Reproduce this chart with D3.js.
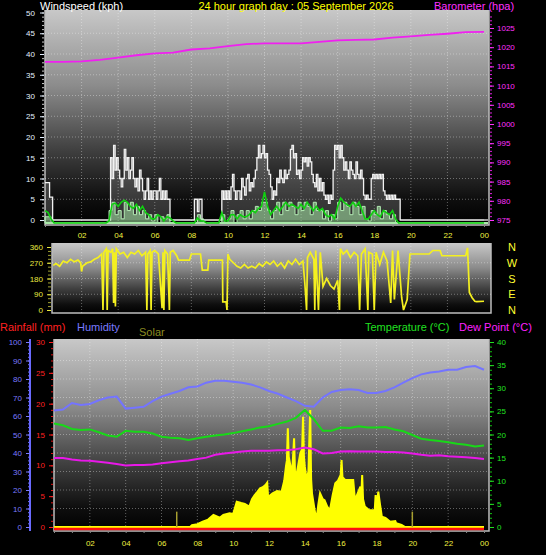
<!DOCTYPE html>
<html>
<head>
<meta charset="utf-8">
<script src="https://d3js.org/d3.v7.min.js"></script>
<style>
  body { margin: 0; background: #000; }
  svg { display: block; }
  text { font-family: "Liberation Sans", Arial, sans-serif; }
</style>
</head>
<body>
<svg id="chart" width="546" height="555"></svg>
<script>
// hour ticks shared by the 3 panels
var hourTicks = [2, 4, 6, 8, 10, 12, 14, 16, 18, 20, 22, 24];
var hourLabels = ["02", "04", "06", "08", "10", "12", "14", "16", "18", "20", "22", "00"];

// gusts, one reading every 5 min (kph)
var gustData = [
  9, 9, 9, 5.5, 5.5, 0, 0, 0, 0, 0, 0, 0,          // 00
  0, 0, 0, 0, 0, 0, 0, 0, 0, 0, 0, 0,              // 01
  0, 0, 0, 0, 0, 0, 0, 0, 0, 0, 0, 0,              // 02
  0, 0, 0, 0, 0, 0, 0, 15, 10, 18, 12, 15,         // 03
  12, 10, 8, 10, 17, 12, 15, 10, 12, 15, 10, 8,    // 04
  10, 7, 12, 10, 7, 5, 7, 10, 5, 7, 5, 7,          // 05
  7, 5, 7, 10, 5, 7, 5, 7, 5, 5, 0, 0,             // 06
  0, 0, 0, 0, 0, 0, 0, 0, 0, 0, 0, 0,              // 07
  0, 0, 5, 5, 2, 5, 5, 0, 0, 0, 0, 0,              // 08
  0, 0, 0, 0, 0, 0, 0, 0, 7, 5, 7, 5,              // 09
  7, 5, 8, 11, 7, 5, 7, 7, 5, 10, 8, 6,            // 10
  10, 11, 7, 9, 8, 10, 12, 15, 18, 15, 16, 18,     // 11
  15, 16, 12, 11, 8, 5, 7, 6, 10, 9, 12, 10,       // 12
  9, 12, 10, 11, 12, 17, 18, 15, 16, 11, 12, 10,   // 13
  12, 15, 14, 15, 13, 15, 14, 11, 9, 8, 11, 7,     // 14
  10, 7, 9, 6, 5, 6, 4, 6, 5, 12, 18, 17,          // 15
  18, 15, 18, 15, 12, 14, 12, 10, 14, 12, 11, 10,  // 16
  14, 11, 10, 12, 10, 6, 5, 6, 5, 5, 10, 11,       // 17
  10, 11, 10, 11, 10, 11, 7, 6, 5, 6, 5, 6,        // 18
  5, 6, 5, 5, 5, 0, 0, 0, 0, 0, 0, 0,              // 19
  0, 0, 0, 0, 0, 0, 0, 0, 0, 0, 0, 0,              // 20
  0, 0, 0, 0, 0, 0, 0, 0, 0, 0, 0, 0,              // 21
  0, 0, 0, 0, 0, 0, 0, 0, 0, 0, 0, 0,              // 22
  0, 0, 0, 0, 0, 0, 0, 0, 0, 0, 0, 0,              // 23
  0
];

// wind speed, every 10 min (kph)
var speedData = [
  1.5, 1.5, 0, 0, 0, 0,   0, 0, 0, 0, 0, 0,   0, 0, 0, 0, 0, 0,
  0, 0, 0, 3, 5, 2,       3, 1, 5, 3, 5, 2,   4, 2, 3, 1, 2, 0.5,
  2, 0, 1.5, 1, 2, 0,     0, 0, 0, 0, 0, 0,   0, 0, 2, 1, 0, 0,
  0, 0, 0, 0, 2, 0,       1, 3, 0, 2, 3, 1,   3, 1, 3, 4, 3, 5,
  5, 3, 1, 3, 5, 2,       5, 3, 5, 4, 2, 5,   3, 5, 4, 2, 5, 3,
  3, 1, 3, 0.5, 2, 1,     5, 3, 5, 4, 2, 5,   4, 2, 4, 1, 0.5, 3,
  2, 4, 1, 3, 2, 1,       2, 0, 0, 0, 0, 0,   0, 0, 0, 0, 0, 0,
  0, 0, 0, 0, 0, 0,       0, 0, 0, 0, 0, 0,   0, 0, 0, 0, 0, 0,
  0
];

// average wind speed, every 10 min (kph)
var avgData = [
  3, 2.5, 1, 0, 0, 0,       0, 0, 0, 0, 0, 0,           0, 0, 0, 0, 0, 0,
  0, 0, 0, 0.5, 4.5, 4.8,   4, 5, 5.5, 5, 4, 3.5,       4.5, 3, 4, 2.5, 2, 1,
  1, 2, 1.5, 0.5, 1.5, 1.2, 0.5, 0, 0, 0, 0, 0,         0, 0, 1.2, 0.5, 0.5, 0,
  0, 0, 0, 0, 2.5, 0.5,     0.5, 2, 2, 1, 2, 1.5,       1.5, 2, 3, 2.5, 3.5, 4,
  7.5, 4, 2, 3, 4, 3,       4, 5, 4, 4.5, 4, 3.5,       4.5, 3.5, 5, 4, 3, 4,
  3, 3.5, 2, 1.5, 2, 1,     4, 6, 5, 4.5, 4, 5,         4, 5, 3, 1, 1, 2,
  3, 2, 1.5, 3, 2.5, 2,     3, 1, 0, 0, 0, 0,           0, 0, 0, 0, 0, 0,
  0, 0, 0, 0, 0, 0,         0, 0, 0, 0, 0, 0,           0, 0, 0, 0, 0, 0,
  0
];

// barometer, hourly (hpa)
var baroData = [1016.2, 1016.2, 1016.3, 1016.7, 1017.3, 1017.9, 1018.4, 1018.6, 1019.4,
  1019.7, 1020.3, 1020.8, 1021.0, 1021.0, 1021.0, 1021.4, 1021.8, 1021.9, 1022.0,
  1022.5, 1022.8, 1023.2, 1023.5, 1023.9, 1024.0];

// wind direction (hour, degrees)
var dirHours = [0.45, 0.6, 0.8, 1.0, 1.2, 1.4, 1.6, 1.8, 1.95, 2.0, 2.05, 2.3, 2.5, 2.7, 2.9, 3.1,
  3.17, 3.22, 3.35, 3.4, 3.45, 3.6, 3.7, 3.75, 3.8, 3.85, 3.9, 4.1, 4.3, 4.5, 4.7, 4.9,
  5.1, 5.3, 5.5, 5.57, 5.62, 5.75, 5.8, 5.85, 6.0, 6.2, 6.4, 6.45, 6.5, 6.55, 6.7, 6.8,
  6.85, 7.0, 7.2, 7.3, 7.9, 8.0, 8.5, 8.6, 8.9, 8.95, 9.7, 9.72, 9.9, 9.95, 10.0, 10.1,
  10.3, 10.5, 10.7, 10.9, 11.1, 11.3, 11.5, 11.7, 11.9, 12.1, 12.3, 12.5, 12.7, 12.9,
  13.1, 13.3, 13.5, 13.7, 13.9, 14.1, 14.2, 14.3, 14.35, 14.5, 14.7, 14.75, 14.8, 14.95,
  15.05, 15.2, 15.4, 15.6, 15.8, 16.0, 16.1, 16.15, 16.3, 16.5, 16.7, 16.9, 17.1, 17.2,
  17.3, 17.5, 17.65, 17.7, 17.9, 18.0, 18.1, 18.3, 18.5, 18.7, 18.9, 19.0, 19.1, 19.3,
  19.5, 19.6, 19.8, 19.95, 21.0, 21.2, 21.6, 21.7, 23.0, 23.1, 23.2, 23.35, 23.5, 23.6, 24.0];
var dirValues = [255, 265, 250, 280, 270, 290, 275, 285, 270, 220, 250, 270, 275, 290, 300, 320,
  0, 330, 350, 0, 340, 330, 350, 40, 330, 20, 350, 320, 330, 300, 330, 320,
  340, 310, 330, 0, 320, 340, 0, 330, 340, 320, 10, 330, 0, 340, 320, 0,
  330, 340, 310, 285, 285, 320, 320, 228, 228, 285, 285, 47, 47, 0, 320, 290,
  270, 250, 240, 260, 240, 250, 240, 265, 250, 275, 260, 280, 250, 270,
  240, 280, 260, 290, 260, 280, 160, 0, 300, 330, 290, 0, 340, 0,
  330, 135, 180, 140, 120, 170, 0, 350, 320, 340, 300, 330, 310, 0,
  320, 350, 0, 330, 320, 0, 330, 260, 330, 280, 40, 340, 60, 340,
  70, 0, 60, 320, 320, 340, 340, 310, 310, 355, 100, 70, 50, 48, 50];
var compassLabels = ["N", "W", "S", "E", "N"];
var compassDeg = [360, 270, 180, 90, 0];

// humidity (%), temperature and dew point (C), every 30 min
var humData = [63, 63.5, 67, 66, 66.5, 68.5, 70, 70.5, 64, 64.5, 65, 68, 70.5, 72, 73.5, 75.5,
  76, 78, 79, 79, 78.5, 78, 77, 75.5, 73.5, 72, 70, 68, 65.5, 65, 70, 73, 74, 74.5, 74,
  72.5, 72.5, 73.5, 75.5, 78, 80.5, 82.5, 83.5, 84, 85, 85, 86.5, 87, 85];
var tempData = [22.4, 22, 21.2, 21, 21.1, 20.5, 19.8, 19.5, 20.8, 20.6, 20.6, 20.2, 19.5, 19.3,
  19.2, 18.8, 19.2, 19.5, 19.8, 20, 20.3, 20.7, 21.1, 21.5, 21.8, 22.3, 22.8, 23.6, 25.3,
  23.3, 20.8, 20.8, 21.5, 21.4, 21.8, 21.5, 21.5, 21.6, 21.1, 20.7, 19.9, 19.1, 18.8,
  18.6, 18.3, 18, 17.8, 17.4, 17.6];
var dewData = [14.9, 14.9, 14.6, 14.4, 14.3, 14.1, 13.9, 13.6, 13.3, 13.4, 13.4, 13.5, 13.8, 14,
  14.2, 14.4, 14.7, 15, 15.6, 15.9, 16.1, 16.3, 16.5, 16.5, 16.5, 16.6, 16.6, 16.8, 17.2,
  16.8, 15.9, 16, 16.3, 16.4, 16.3, 16.3, 16.3, 16.2, 16.2, 16.1, 15.9, 15.6, 15.4, 15.5,
  15.3, 15.2, 15.1, 14.9, 14.7];

// rainfall (mm), hourly - dry day
var rainData = [0, 0, 0, 0, 0, 0, 0, 0, 0, 0, 0, 0, 0, 0, 0, 0, 0, 0, 0, 0, 0, 0, 0, 0, 0];

// solar radiation (hour, W/m2)
var solarHours = [0, 7.6, 7.7, 8.0, 8.3, 8.6, 8.9, 9.25, 9.45, 9.8, 10.0, 10.2, 10.45, 10.65,
  10.9, 11.05, 11.2, 11.35, 11.5, 11.65, 11.8, 11.9, 11.95, 12.2, 12.45, 12.7, 12.85, 12.95,
  13.0, 13.05, 13.1, 13.2, 13.3, 13.4, 13.45, 13.55, 13.75, 13.85, 13.9, 13.95, 14.0, 14.1,
  14.2, 14.3, 14.35, 14.4, 14.55, 14.65, 14.75, 14.85, 15.0, 15.1, 15.25, 15.4, 15.55, 15.7,
  15.85, 16.0, 16.05, 16.1, 16.25, 16.7, 16.8, 16.95, 17.1, 17.15, 17.2, 17.25, 17.35, 17.6,
  17.9, 17.95, 18.0, 18.1, 18.2, 18.3, 18.5, 18.75, 19.05, 19.1, 19.4, 19.6, 24];
var solarValues = [0, 0, 10, 15, 29, 40, 65, 50, 65, 74, 70, 137, 130, 125,
  110, 150, 173, 190, 209, 215, 227, 240, 162, 182, 195, 191, 250, 330,
  360, 534, 380, 330, 308, 480, 300, 290, 400, 420, 596, 380, 326, 254,
  300, 632, 260, 182, 90, 38, 120, 182, 150, 145, 110, 90, 170, 236,
  250, 281, 362, 270, 254, 254, 145, 182, 218, 160, 281, 150, 110, 91,
  91, 173, 100, 191, 120, 55, 49, 29, 32, 20, 11, 0, 0];
// sunrise / sunset markers
var sunHours = [6.85, 20.0];
var sunValues = [83, 83];

var svg = d3.select("#chart");

var xTop = d3.scaleLinear().domain([0, 24]).range([45, 484]);
var xBot = d3.scaleLinear().domain([0, 24]).range([54, 484]);
var yWind = d3.scaleLinear().domain([0, 50]).range([220, 12.5]);
var yWindG = d3.scaleLinear().domain([0, 50]).range([223, 15.5]); // green traces sit a bit lower
var yBaro = d3.scaleLinear().domain([975, 1025]).range([220, 28]);
var yDir = d3.scaleLinear().domain([0, 360]).range([310, 247]);
var yHum = d3.scaleLinear().domain([0, 100]).range([527, 342]);
var yRain = d3.scaleLinear().domain([0, 30]).range([527, 342]);
var yTemp = d3.scaleLinear().domain([0, 40]).range([527, 342]);
var ySolar = d3.scaleLinear().domain([0, 1000]).range([527, 342]);

function init() {
  var defs = svg.append("defs");
  var grad = defs.append("linearGradient").attr("id", "panelBg")
    .attr("x1", 0).attr("y1", 0).attr("x2", 0).attr("y2", 1);
  [[0, "#c8c8c8"], [0.35, "#8c8c8c"], [0.65, "#404040"], [0.88, "#0e0e0e"], [1, "#000"]]
    .forEach(function (s) { grad.append("stop").attr("offset", s[0]).attr("stop-color", s[1]); });

  drawWind();
  drawDirection();
  drawClimate();
}

function panel(x0, y0, w, h) {
  svg.append("rect").attr("x", x0).attr("y", y0).attr("width", w).attr("height", h)
    .attr("fill", "url(#panelBg)");
  // light edges
  svg.append("path")
    .attr("d", "M" + x0 + "," + y0 + "V" + (y0 + h) + "H" + (x0 + w) + "V" + y0)
    .attr("fill", "none").attr("stroke", "#bdbdbd").attr("stroke-width", 1.5);
}

function grid(x, xr, ys, yr) {
  var g = svg.append("g").attr("stroke", "rgba(255,255,255,0.35)").attr("stroke-dasharray", "1,2");
  g.selectAll(".v").data([2, 4, 6, 8, 10, 12, 14, 16, 18, 20, 22]).enter().append("line")
    .attr("x1", function (d) { return x(d); }).attr("x2", function (d) { return x(d); })
    .attr("y1", yr[0]).attr("y2", yr[1]);
  g.selectAll(".h").data(ys).enter().append("line")
    .attr("x1", xr[0]).attr("x2", xr[1])
    .attr("y1", function (d) { return d; }).attr("y2", function (d) { return d; });
}

function styleAxis(g, color, size) {
  g.select(".domain").remove();
  g.selectAll("line").attr("stroke", color);
  g.selectAll("text").attr("fill", color).attr("font-size", size).attr("font-family", "Liberation Sans, Arial");
}

function label(x, y, txt, color, size, anchor) {
  svg.append("text").attr("x", x).attr("y", y).attr("fill", color)
    .attr("font-size", size).attr("text-anchor", anchor || "start").text(txt);
}

function drawWind() {
  panel(45, 10, 444, 215);
  grid(xTop, [45, 489], d3.range(5, 50, 5).map(yWind), [10, 225]);

  var gust = gustData.map(function (v, i) { return [i / 12, v]; });
  var speed = speedData.map(function (v, i) { return [i / 6, v]; });
  var avg = avgData.map(function (v, i) { return [i / 6, v]; });
  var baro = baroData.map(function (v, i) { return [i, v]; });

  svg.append("path").datum(gust)
    .attr("fill", "rgba(255,255,255,0.18)")
    .attr("d", d3.area().curve(d3.curveStepAfter)
      .x(function (d) { return xTop(d[0]); }).y0(yWind(0)).y1(function (d) { return yWind(d[1]); }));
  svg.append("path").datum(gust)
    .attr("fill", "none").attr("stroke", "#f2f2f2").attr("stroke-width", 1.3)
    .attr("d", d3.line().curve(d3.curveStepAfter)
      .x(function (d) { return xTop(d[0]); }).y(function (d) { return yWind(d[1]); }));
  // baseline goes to the panel edge
  svg.append("line").attr("x1", xTop(24)).attr("x2", 488).attr("y1", yWind(0)).attr("y2", yWind(0))
    .attr("stroke", "#f2f2f2").attr("stroke-width", 1.3);

  svg.append("path").datum(speed)
    .attr("fill", "rgba(170,235,170,0.55)").attr("stroke", "#b4ecb4").attr("stroke-width", 1)
    .attr("d", d3.area().curve(d3.curveStepAfter)
      .x(function (d) { return xTop(d[0]); }).y0(yWindG(0)).y1(function (d) { return yWindG(d[1]); }));
  svg.append("line").attr("x1", xTop(0)).attr("x2", 488).attr("y1", yWindG(0)).attr("y2", yWindG(0))
    .attr("stroke", "#a8e8a8").attr("stroke-width", 2);

  svg.append("path").datum(avg)
    .attr("fill", "none").attr("stroke", "#10d010").attr("stroke-width", 1.6)
    .attr("d", d3.line().x(function (d) { return xTop(d[0]); }).y(function (d) { return yWindG(d[1]); }));

  svg.append("path").datum(baro)
    .attr("fill", "none").attr("stroke", "#f020f0").attr("stroke-width", 1.8)
    .attr("d", d3.line().x(function (d) { return xTop(d[0]); }).y(function (d) { return yBaro(d[1]); }));

  // left wind axis
  var minor = svg.append("g").attr("transform", "translate(44,0)")
    .call(d3.axisLeft(yWind).tickValues(d3.range(0, 51, 1)).tickSize(2).tickFormat(""));
  styleAxis(minor, "#c8c8c8", 8);
  var gl = svg.append("g").attr("transform", "translate(44,0)")
    .call(d3.axisLeft(yWind).tickValues(d3.range(0, 51, 5)).tickSize(4).tickPadding(5));
  styleAxis(gl, "#e4f0ff", 8);

  // right barometer axis
  var bminor = svg.append("g").attr("transform", "translate(490,0)")
    .call(d3.axisRight(yBaro).tickValues(d3.range(975, 1029, 1)).tickSize(2).tickFormat(""));
  styleAxis(bminor, "#e020e0", 8);
  var br = svg.append("g").attr("transform", "translate(490,0)")
    .call(d3.axisRight(yBaro).tickValues(d3.range(975, 1026, 5)).tickSize(4).tickPadding(3)
      .tickFormat(d3.format("d")));
  styleAxis(br, "#ff30ff", 8);

  // hour ticks + labels
  var hm = svg.append("g").attr("transform", "translate(0,225)")
    .call(d3.axisBottom(xTop).tickValues(d3.range(0, 25, 1)).tickSize(2).tickFormat(""));
  styleAxis(hm, "#8a8a8a", 8);
  var hx = svg.append("g").attr("transform", "translate(0,225)")
    .call(d3.axisBottom(xTop).tickValues(hourTicks).tickSize(0).tickPadding(7)
      .tickFormat(function (d, i) { return hourLabels[i]; }));
  styleAxis(hx, "#f0f040", 8);

  label(40, 10, "Windspeed (kph)", "#ffffff", 11);
  label(296, 10, "24 hour graph day : 05 September 2026", "#ffff00", 11, "middle");
  label(434, 10, "Barometer (hpa)", "#ff30ff", 11);
}

function drawDirection() {
  panel(52, 243, 439, 70);
  grid(xTop, [52, 491], [90, 180, 270].map(yDir), [243, 313]);

  var dir = dirHours.map(function (h, i) { return [h, dirValues[i]]; });
  svg.append("path").datum(dir)
    .attr("fill", "none").attr("stroke", "#f4f020").attr("stroke-width", 1.7)
    .attr("d", d3.line().x(function (d) { return xTop(d[0]); }).y(function (d) { return yDir(d[1]); }));

  var minor = svg.append("g").attr("transform", "translate(51,0)")
    .call(d3.axisLeft(yDir).tickValues(d3.range(0, 361, 22.5)).tickSize(3).tickFormat(""));
  styleAxis(minor, "#a0a030", 8);
  var gl = svg.append("g").attr("transform", "translate(51,0)")
    .call(d3.axisLeft(yDir).tickValues([0, 90, 180, 270, 360]).tickSize(4).tickPadding(4));
  styleAxis(gl, "#e8e840", 8);

  svg.selectAll(".compass").data(compassLabels).enter().append("text")
    .attr("x", 512).attr("y", function (d, i) { return yDir(compassDeg[i]) + 4; })
    .attr("text-anchor", "middle").attr("fill", "#ffff30").attr("font-size", 11)
    .text(function (d) { return d; });
}

function drawClimate() {
  panel(54, 339, 435, 192);
  grid(xBot, [54, 489], d3.range(10, 100, 10).map(yHum), [339, 531]);

  var solar = solarHours.map(function (h, i) { return [h, solarValues[i]]; });
  svg.append("path").datum(solar)
    .attr("fill", "#ffff00").attr("stroke", "#ffff00").attr("stroke-width", 2)
    .attr("d", d3.area().x(function (d) { return xBot(d[0]); })
      .y0(ySolar(0)).y1(function (d) { return ySolar(d[1]); }));
  svg.selectAll(".sun").data(sunHours).enter().append("line")
    .attr("x1", function (d) { return xBot(d); }).attr("x2", function (d) { return xBot(d); })
    .attr("y1", ySolar(0)).attr("y2", function (d, i) { return ySolar(sunValues[i]); })
    .attr("stroke", "#a8a030").attr("stroke-width", 1.5);

  var rain = rainData.map(function (v, i) { return [i, v]; });
  svg.append("path").datum(rain)
    .attr("fill", "none").attr("stroke", "#ff1010").attr("stroke-width", 2.5)
    .attr("transform", "translate(0,2)")
    .attr("d", d3.line().x(function (d) { return xBot(d[0]); }).y(function (d) { return yRain(d[1]); }));

  function series(data, scale, color) {
    svg.append("path").datum(data.map(function (v, i) { return [i / 2, v]; }))
      .attr("fill", "none").attr("stroke", color).attr("stroke-width", 2)
      .attr("d", d3.line().x(function (d) { return xBot(d[0]); }).y(function (d) { return scale(d[1]); }));
  }
  series(dewData, yTemp, "#e818e8");
  series(tempData, yTemp, "#18d818");
  series(humData, yHum, "#7474ff");

  // humidity axis
  svg.append("line").attr("x1", 30).attr("x2", 30).attr("y1", 339).attr("y2", 531)
    .attr("stroke", "#6a6aff").attr("stroke-width", 2);
  var hmin = svg.append("g").attr("transform", "translate(30,0)")
    .call(d3.axisLeft(yHum).tickValues(d3.range(0, 101, 2)).tickSize(2).tickFormat(""));
  styleAxis(hmin, "#6a6aff", 8);
  var ha = svg.append("g").attr("transform", "translate(30,0)")
    .call(d3.axisLeft(yHum).tickValues(d3.range(0, 101, 10)).tickSize(4).tickPadding(4));
  styleAxis(ha, "#7a7aff", 8);

  // rain axis
  var rmin = svg.append("g").attr("transform", "translate(53,0)")
    .call(d3.axisLeft(yRain).tickValues(d3.range(0, 31, 1)).tickSize(2).tickFormat(""));
  styleAxis(rmin, "#e01010", 8);
  var ra = svg.append("g").attr("transform", "translate(53,0)")
    .call(d3.axisLeft(yRain).tickValues(d3.range(0, 31, 5)).tickSize(4).tickPadding(4));
  styleAxis(ra, "#ff2020", 8);

  // temperature axis
  var tmin = svg.append("g").attr("transform", "translate(490,0)")
    .call(d3.axisRight(yTemp).tickValues(d3.range(0, 41, 1)).tickSize(2).tickFormat(""));
  styleAxis(tmin, "#10c010", 8);
  var ta = svg.append("g").attr("transform", "translate(490,0)")
    .call(d3.axisRight(yTemp).tickValues(d3.range(0, 41, 5)).tickSize(4).tickPadding(3));
  styleAxis(ta, "#20e020", 8);

  var bm = svg.append("g").attr("transform", "translate(0,531)")
    .call(d3.axisBottom(xBot).tickValues(d3.range(0, 25, 1)).tickSize(2).tickFormat(""));
  styleAxis(bm, "#8a8a8a", 8);
  var bx = svg.append("g").attr("transform", "translate(0,531)")
    .call(d3.axisBottom(xBot).tickValues(hourTicks).tickSize(0).tickPadding(9)
      .tickFormat(function (d, i) { return hourLabels[i]; }));
  styleAxis(bx, "#f0f040", 8);

  label(0, 331, "Rainfall (mm)", "#ff2020", 11);
  label(77, 331, "Humidity", "#7a7aff", 11);
  label(139, 336, "Solar", "#8c8c20", 11);
  label(365, 331, "Temperature (\u00b0C)", "#20e020", 11);
  label(459, 331, "Dew Point (\u00b0C)", "#ff20ff", 11);
}

init();
</script>
</body>
</html>
